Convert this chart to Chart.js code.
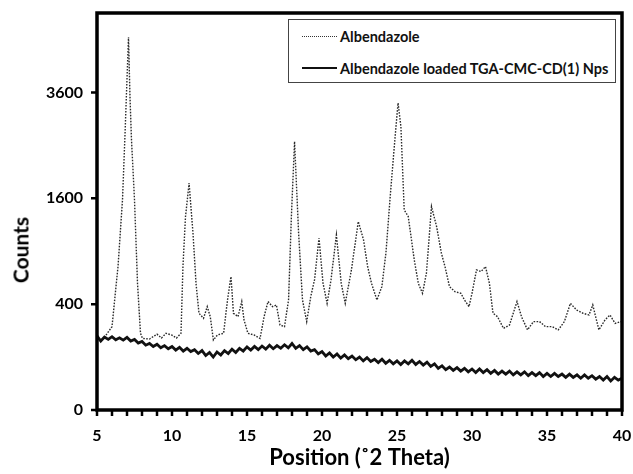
<!DOCTYPE html>
<html>
<head>
<meta charset="utf-8">
<script src="https://cdn.jsdelivr.net/npm/chart.js@4.4.1/dist/chart.umd.min.js"></script>
<style>
  body { margin: 0; background: #fff; }
  #wrap { position: relative; width: 633px; height: 474px; }
  #xrd { display: block; }
  .legend-box {
    position: absolute; left: 288px; top: 19px; width: 328px; height: 64px;
    border: 1px solid #444; background: #fff; box-sizing: border-box;
    font-family: Lato, "Open Sans", sans-serif; font-weight: bold; font-size: 14.5px; color: #111;
  }
  .legend-row { position: absolute; left: 13px; height: 18px; display: flex; align-items: center; }
  .legend-line { display: inline-block; width: 35px; margin-right: 3px; }
  .y-title {
    position: absolute; left: 20px; top: 250px; transform: translate(-50%, -50%) rotate(-90deg);
    font-family: Lato, sans-serif; font-weight: bold; font-size: 21px; color: #000; white-space: nowrap;
  }
</style>
</head>
<body>
<div id="wrap">
  <canvas id="xrd" width="633" height="474"></canvas>
  <div class="y-title">Counts</div>
  <div class="legend-box">
    <div class="legend-row" style="top:7px;">
      <span class="legend-line" style="border-top:1.5px dotted #333;"></span><span>Albendazole</span>
    </div>
    <div class="legend-row" style="top:39px;">
      <span class="legend-line" style="border-top:2px solid #111;"></span><span>Albendazole loaded TGA-CMC-CD(1) Nps</span>
    </div>
  </div>
</div>
<script>
// Albendazole (pure drug) diffractogram
const albTheta = [5.6, 6.0, 6.4, 6.7, 6.87, 7.03, 7.1, 7.2, 7.3, 7.5, 7.7, 7.9, 8.03, 8.5, 9.0, 9.3, 9.6, 10.0, 10.3, 10.6,
    10.73, 10.9, 11.14, 11.4, 11.6, 11.8, 12.1, 12.35, 12.55, 12.76, 13.03, 13.44, 13.7, 13.93, 14.1, 14.4, 14.65, 14.8,
    15.06, 15.47, 15.87, 16.14, 16.4, 16.7, 16.96, 17.2, 17.5, 17.77, 17.96, 18.17, 18.44, 18.7, 18.98, 19.25, 19.5, 19.8,
    20.07, 20.34, 20.6, 20.96, 21.28, 21.55, 21.96, 22.42, 22.77, 23.04, 23.3, 23.66, 23.99, 24.26, 24.53, 24.8, 25.07,
    25.26, 25.48, 25.75, 26.15, 26.42, 26.7, 26.96, 27.3, 27.64, 27.96, 28.2, 28.5, 28.86, 29.26, 29.5, 29.8, 30.0, 30.3,
    30.6, 30.9, 31.16, 31.4, 31.7, 32.1, 32.5, 33.0, 33.3, 33.7, 34.1, 34.5, 34.9, 35.35, 35.75, 36.16, 36.56, 36.97,
    37.4, 37.8, 38.05, 38.46, 38.87, 39.2, 39.54, 39.95];
const albCounts = [200, 248, 734, 1576, 2735, 4212, 4960, 3500, 2605, 1576, 573, 210, 183, 180, 205, 185, 210, 200, 185, 210,
    734, 1335, 1836, 1115, 573, 334, 300, 381, 311, 175, 201, 210, 432, 635, 334, 311, 420, 290,
    210, 201, 183, 311, 420, 381, 394, 258, 248, 432, 1335, 2573, 1115, 432, 279, 459, 604, 1053,
    573, 406, 604, 1094, 573, 406, 700, 1267, 1033, 735, 573, 432, 543, 877, 1576, 2415, 3364,
    2868, 1430, 1335, 805, 573, 486, 667, 1477, 1201, 877, 734, 543, 500, 486, 432, 381, 486, 700,
    684, 734, 573, 334, 311, 238, 258, 420, 311, 229, 279, 279, 248, 248, 229, 279, 406, 357,
    334, 322, 394, 229, 290, 322, 268, 279];

// Albendazole loaded nanoparticles (noisy amorphous halo)
const npTheta = [5, 5.25, 5.5, 5.75, 6, 6.25, 6.5, 6.75, 7, 7.25, 7.5, 7.75, 8, 8.25, 8.5, 8.75, 9, 9.25, 9.5, 9.75,
    10, 10.25, 10.5, 10.75, 11, 11.25, 11.5, 11.75, 12, 12.25, 12.5, 12.75, 13, 13.25, 13.5, 13.75, 14, 14.25, 14.5, 14.75,
    15, 15.25, 15.5, 15.75, 16, 16.25, 16.5, 16.75, 17, 17.25, 17.5, 17.75, 18, 18.25, 18.5, 18.75, 19, 19.25, 19.5, 19.75,
    20, 20.25, 20.5, 20.75, 21, 21.25, 21.5, 21.75, 22, 22.25, 22.5, 22.75, 23, 23.25, 23.5, 23.75, 24, 24.25, 24.5, 24.75,
    25, 25.25, 25.5, 25.75, 26, 26.25, 26.5, 26.75, 27, 27.25, 27.5, 27.75, 28, 28.25, 28.5, 28.75, 29, 29.25, 29.5, 29.75,
    30, 30.25, 30.5, 30.75, 31, 31.25, 31.5, 31.75, 32, 32.25, 32.5, 32.75, 33, 33.25, 33.5, 33.75, 34, 34.25, 34.5, 34.75,
    35, 35.25, 35.5, 35.75, 36, 36.25, 36.5, 36.75, 37, 37.25, 37.5, 37.75, 38, 38.25, 38.5, 38.75, 39, 39.25, 39.5, 39.75, 40];
const npCounts = [196, 170, 190, 178, 192, 176, 186, 174, 188, 170, 178, 160, 168, 150, 158, 144, 154, 138, 148, 134,
    144, 128, 140, 124, 136, 122, 130, 114, 126, 106, 118, 100, 120, 108, 126, 114, 132, 118, 136, 124,
    142, 128, 144, 130, 146, 132, 150, 134, 148, 136, 152, 138, 158, 136, 148, 130, 142, 124, 130, 112,
    122, 104, 116, 100, 112, 96, 108, 94, 104, 90, 100, 86, 98, 84, 92, 80, 92, 78, 88, 76,
    86, 74, 86, 76, 88, 74, 84, 72, 82, 68, 76, 62, 70, 58, 66, 56, 64, 54, 62, 52,
    60, 50, 60, 50, 58, 48, 56, 46, 54, 46, 54, 44, 52, 44, 52, 42, 50, 42, 50, 40,
    48, 40, 48, 40, 46, 38, 46, 38, 44, 36, 44, 36, 42, 34, 40, 32, 40, 30, 38, 32, 36];

const xTickLabels = [5, 10, 15, 20, 25, 30, 35, 40];
const yTickValues = [0, 400, 1600, 3600];

// square-root intensity axis
class SqrtScale extends Chart.LinearScale {
    getPixelForValue(value) {
        const lo = Math.sqrt(this.min), hi = Math.sqrt(this.max);
        return this.getPixelForDecimal((Math.sqrt(Math.max(value, 0)) - lo) / (hi - lo));
    }
    getValueForPixel(pixel) {
        const lo = Math.sqrt(this.min), hi = Math.sqrt(this.max);
        const s = lo + this.getDecimalForPixel(pixel) * (hi - lo);
        return s * s;
    }
}
SqrtScale.id = 'sqrt';
SqrtScale.defaults = Chart.LinearScale.defaults;
Chart.register(SqrtScale);

// plot frame plus outward tick marks
const framePlugin = {
    id: 'frame',
    afterDraw(chart) {
        const { ctx, chartArea: a, scales } = chart;
        ctx.save();
        ctx.strokeStyle = '#000';
        ctx.lineWidth = 2.5;
        ctx.beginPath();
        scales.x.ticks.forEach(t => {
            const px = scales.x.getPixelForValue(t.value);
            ctx.moveTo(px, a.bottom);
            ctx.lineTo(px, a.bottom + 6);
        });
        yTickValues.forEach(v => {
            const py = scales.y.getPixelForValue(v);
            ctx.moveTo(a.left - 6, py);
            ctx.lineTo(a.left, py);
        });
        ctx.stroke();
        ctx.lineWidth = 3.5;
        ctx.strokeRect(a.left, a.top, a.right - a.left, a.bottom - a.top);
        ctx.restore();
    }
};

// keep the plot box fixed: no extra room for end labels
const noLabelPadding = s => { s.paddingLeft = 0; s.paddingRight = 0; s.paddingTop = 0; s.paddingBottom = 0; };

const toPoints = (xs, ys) => xs.map((x, i) => ({ x: x, y: ys[i] }));
const tickFont = { family: 'Lato', size: 16, weight: 'bold' };

new Chart(document.getElementById('xrd').getContext('2d'), {
    type: 'line',
    data: {
        datasets: [{
            label: 'Albendazole loaded TGA-CMC-CD(1) Nps',
            data: toPoints(npTheta, npCounts),
            borderColor: '#111',
            borderWidth: 2.8,
            pointRadius: 0,
            tension: 0
        }, {
            label: 'Albendazole',
            data: toPoints(albTheta, albCounts),
            borderColor: '#2a2a2a',
            borderWidth: 1.4,
            borderDash: [1.6, 1.4],
            pointRadius: 0,
            tension: 0
        }]
    },
    options: {
        responsive: false,
        animation: false,
        layout: { autoPadding: false, padding: { left: 0, top: 13, right: 11, bottom: 0 } },
        plugins: { legend: { display: false }, tooltip: { enabled: false } },
        scales: {
            x: {
                type: 'linear', min: 5, max: 40,
                afterFit: s => { noLabelPadding(s); s.height = 64; },
                border: { display: false },
                grid: { display: false },
                ticks: {
                    stepSize: 1, autoSkip: false, maxRotation: 0, padding: 8, color: '#000', font: tickFont,
                    callback: v => xTickLabels.includes(v) ? String(v) : ''
                },
                title: { display: true, text: 'Position (˚2 Theta)', color: '#000', padding: { top: 0, bottom: 3 },
                    font: { family: 'Lato', size: 22, weight: 'bold' } }
            },
            y: {
                type: 'sqrt', min: 0, max: 5625,
                afterFit: s => { noLabelPadding(s); s.width = 97; },
                afterBuildTicks: s => { s.ticks = yTickValues.map(v => ({ value: v })); },
                border: { display: false },
                grid: { display: false },
                ticks: { padding: 6, color: '#000', font: tickFont, callback: v => String(v) },
                title: { display: false }
            }
        }
    },
    plugins: [framePlugin]
});
</script>
</body>
</html>
